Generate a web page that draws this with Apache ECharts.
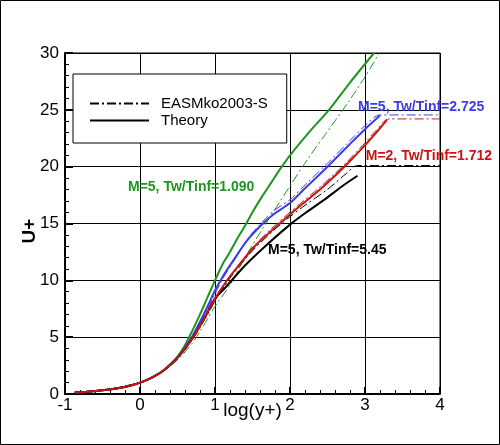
<!DOCTYPE html>
<html>
<head>
<meta charset="utf-8">
<script src="https://cdn.jsdelivr.net/npm/echarts@6/dist/echarts.min.js"></script>
<style>
  html, body { margin: 0; padding: 0; background: #fff; }
  #chart { width: 500px; height: 445px; }
</style>
</head>
<body>
<div id="chart"></div>
<script>
// ---- data (x = log10(y+), u = U+) ----
const xTicks = [-1, 0, 1, 2, 3, 4];
const yTicks = [0, 5, 10, 15, 20, 25, 30];

// Theory (solid)
const greenX = [-0.87,-0.7,-0.5,-0.3,-0.1,0,0.1,0.2,0.3,0.4,0.5,0.6,0.7,0.8,0.9,1.0,1.1,1.2,1.3,1.4,1.5,1.62,1.75,1.87,2.0,2.25,2.52,2.8,3.12];
const greenU = [0.13,0.2,0.32,0.5,0.79,1.0,1.26,1.6,2.0,2.6,3.3,4.3,5.6,7.0,8.5,10.0,11.4,12.5,13.7,14.8,16.0,17.3,18.6,19.8,21.0,23.0,25.0,27.4,30.0];

const blueX = [-0.87,-0.7,-0.5,-0.3,-0.1,0,0.1,0.2,0.3,0.4,0.5,0.6,0.7,0.8,0.9,1.0,1.1,1.27,1.44,1.64,1.8,2.0,2.2,2.5,2.8,3.0,3.2];
const blueU = [0.13,0.2,0.32,0.5,0.79,1.0,1.26,1.6,2.0,2.55,3.2,4.1,5.1,6.35,7.7,9.1,10.3,12.0,13.6,15.0,15.9,16.8,18.1,20.0,22.0,23.3,24.5];

const redX = [-0.87,-0.7,-0.5,-0.3,-0.1,0,0.1,0.2,0.3,0.4,0.5,0.6,0.7,0.8,0.9,1.0,1.15,1.31,1.53,1.76,2.0,2.2,2.4,2.6,2.8,3.0,3.15,3.29];
const redU = [0.13,0.2,0.32,0.5,0.79,1.0,1.26,1.6,2.0,2.55,3.2,4.0,4.9,6.0,7.2,8.4,9.9,11.25,13.0,14.4,15.8,16.9,18.0,19.2,20.5,21.9,23.0,24.1];

const blackX = [-0.87,-0.7,-0.5,-0.3,-0.1,0,0.1,0.2,0.3,0.4,0.5,0.6,0.7,0.8,0.9,1.0,1.13,1.4,1.67,2.0,2.2,2.5,2.7,2.9];
const blackU = [0.13,0.2,0.32,0.5,0.79,1.0,1.26,1.6,2.0,2.55,3.2,4.0,4.9,6.0,7.2,8.4,9.3,11.3,13.0,14.9,15.9,17.3,18.3,19.2];

// EASMko2003-S (dash-dot)
const greenDX = [-0.87,-0.5,0,0.2,0.4,0.5,0.6,0.7,0.8,0.9,1.0,1.2,1.4,1.64,2.0,2.24,2.5,2.8,3.0,3.19];
const greenDU = [0.13,0.32,1.0,1.55,2.45,3.0,3.7,4.5,5.5,6.6,7.7,9.6,12.0,14.6,18.3,20.7,23.1,25.9,27.9,30.0];

const blueDX = [-0.87,-0.5,0,0.2,0.4,0.5,0.6,0.7,0.8,0.9,1.0,1.1,1.27,1.44,1.64,1.8,2.0,2.2,2.5,2.8,3.0,3.2,4.0];
const blueDU = [0.13,0.32,1.0,1.6,2.5,3.1,3.9,4.9,6.1,7.4,8.8,10.1,11.9,13.7,15.2,16.2,17.1,18.4,20.3,22.3,23.6,24.55,24.55];

const redDX = [-0.87,-0.5,0,0.2,0.4,0.5,0.6,0.7,0.8,0.9,1.0,1.15,1.31,1.53,1.76,2.0,2.2,2.4,2.6,2.8,3.0,3.15,3.32,4.0];
const redDU = [0.13,0.32,1.0,1.6,2.5,3.1,3.9,4.8,5.9,7.0,8.2,9.8,11.3,13.1,14.6,16.0,17.1,18.2,19.4,20.7,22.1,23.2,24.2,24.2];

const blackDX = [-0.87,-0.5,0,0.2,0.4,0.5,0.7,0.9,1.0,1.2,1.5,1.8,2.0,2.2,2.5,2.75,2.9,4.0];
const blackDU = [0.13,0.32,1.0,1.6,2.5,3.1,4.8,7.0,8.2,10.2,12.6,14.5,15.6,16.6,18.0,19.4,20.1,20.1];

const labelTexts = ['M=5, Tw/Tinf=1.090', 'M=5, Tw/Tinf=2.725', 'M=2, Tw/Tinf=1.712', 'M=5, Tw/Tinf=5.45'];
const labelAnchors = [[-0.16, 18.2], [2.907, 25.26], [3.01, 20.9], [1.707, 12.63]];

const legendNames = ['EASMko2003-S', 'Theory'];

// ---- styles ----
const GREEN = '#1e961e', BLUE = '#3c3ce6', RED = '#c81414', BLACK = '#000000';
const labelColors = [GREEN, BLUE, RED, BLACK];
const DASHDOT = [9, 3, 2, 3];
const FONT = 'Liberation Sans';

const zip = (xs, us) => xs.map((x, i) => [x, us[i]]);

function lineSeries(name, xs, us, color, dashed) {
  return {
    name: name,
    type: 'line',
    data: zip(xs, us),
    showSymbol: false,
    symbol: 'none',
    smooth: 0.3,
    silent: true,
    lineStyle: { color: color, width: dashed ? 1 : 2, type: dashed ? DASHDOT : 'solid' },
    itemStyle: { color: color },
    z: dashed ? 3 : 4
  };
}

const chart = echarts.init(document.getElementById('chart'), null, { renderer: 'canvas' });

const option = {
  animation: false,
  backgroundColor: '#fff',
  grid: { left: 65, right: 60, top: 53, bottom: 51, show: true, borderColor: '#000', borderWidth: 1, containLabel: false },
  legend: {
    data: legendNames,
    orient: 'vertical',
    left: 73, top: 74,
    itemWidth: 59, itemHeight: 14, itemGap: 2,
    padding: [22, 19, 15, 16],
    backgroundColor: '#fff', borderColor: '#000', borderWidth: 1,
    selectedMode: false,
    itemStyle: { opacity: 0, borderWidth: 0 },
    textStyle: { fontFamily: FONT, fontSize: 15, color: '#000', padding: [0, 0, 0, 7] }
  },
  xAxis: {
    type: 'value', min: xTicks[0], max: xTicks[xTicks.length - 1], interval: 1,
    name: 'log(y+)', nameLocation: 'middle', nameGap: 7, nameMoveOverlap: false,
    nameTextStyle: { fontFamily: FONT, fontSize: 19, color: '#000', verticalAlign: 'top' },
    axisLine: { show: true, onZero: false, lineStyle: { color: '#000', width: 2 } },
    axisTick: { show: true, inside: true, length: 7, lineStyle: { color: '#000', width: 2 } },
    minorTick: { show: true, splitNumber: 5, length: 4, lineStyle: { color: '#000', width: 1 } },
    splitLine: { show: true, lineStyle: { color: '#000', width: 1 } },
    axisLabel: { fontFamily: FONT, fontSize: 17, color: '#000', margin: 3, showMinLabel: true, showMaxLabel: true }
  },
  yAxis: {
    type: 'value', min: yTicks[0], max: yTicks[yTicks.length - 1], interval: 5,
    axisLine: { show: true, onZero: false, lineStyle: { color: '#000', width: 2 } },
    axisTick: { show: true, inside: true, length: 8, lineStyle: { color: '#000', width: 2 } },
    minorTick: { show: true, splitNumber: 5, length: 4, lineStyle: { color: '#000', width: 1 } },
    splitLine: { show: true, lineStyle: { color: '#000', width: 1 } },
    axisLabel: { fontFamily: FONT, fontSize: 17, color: '#000', margin: 6, showMinLabel: true, showMaxLabel: true }
  },
  graphic: [
    { id: 'frame', type: 'rect', shape: { x: 0.5, y: 0.5, width: 499, height: 444 },
      style: { fill: 'none', stroke: '#000', lineWidth: 1 }, silent: true, z: 100 },
    { id: 'ytitle', type: 'text', x: 30, y: 231, rotation: Math.PI / 2, silent: true,
      style: { text: 'U+', fill: '#000', font: 'bold 19px "Liberation Sans"', textAlign: 'center', textVerticalAlign: 'middle' } }
  ],
  series: [
    // legend proxies
    { name: legendNames[0], type: 'line', data: [], symbol: 'none', lineStyle: { color: BLACK, width: 1, type: DASHDOT }, itemStyle: { color: BLACK } },
    { name: legendNames[1], type: 'line', data: [], symbol: 'none', lineStyle: { color: BLACK, width: 3 }, itemStyle: { color: BLACK } },
    // EASM dash-dot
    lineSeries('g-easm', greenDX, greenDU, GREEN, true),
    lineSeries('b-easm', blueDX, blueDU, BLUE, true),
    lineSeries('r-easm', redDX, redDU, RED, true),
    lineSeries('k-easm', blackDX, blackDU, BLACK, true),
    // Theory solid
    lineSeries('g-th', greenX, greenU, GREEN, false),
    lineSeries('b-th', blueX, blueU, BLUE, false),
    lineSeries('k-th', blackX, blackU, BLACK, false),
    lineSeries('r-th', redX, redU, RED, false)
  ]
};

chart.setOption(option);

// annotation labels anchored in data coordinates
const labelGraphics = labelTexts.map((t, i) => {
  const p = chart.convertToPixel({ gridIndex: 0 }, labelAnchors[i]);
  return {
    id: 'lab' + i, type: 'text', x: p[0], y: p[1], silent: true, z: 50,
    style: { text: t, fill: labelColors[i], font: 'bold 14px "Liberation Sans"', textAlign: 'left', textVerticalAlign: 'middle' }
  };
});
chart.setOption({ graphic: labelGraphics });
</script>
</body>
</html>
